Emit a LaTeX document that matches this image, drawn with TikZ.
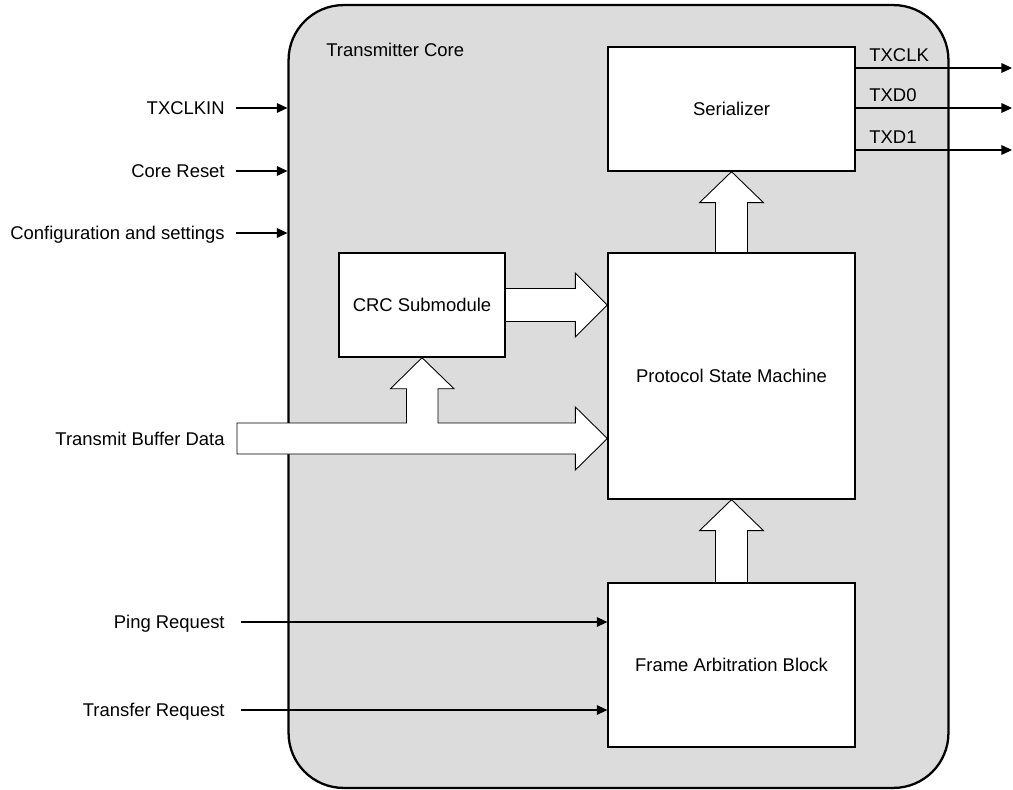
\documentclass[tikz,border=0pt]{standalone}
\usepackage{fontspec}
\setmainfont{Liberation Sans}
\usetikzlibrary{arrows.meta,calc,backgrounds}
\definecolor{coregray}{RGB}{220,220,220}

\begin{document}
\begin{tikzpicture}[x=0.02cm,y=-0.02cm,font=\fontsize{10.5}{12}\selectfont,
 blk/.style={draw,fill=white,line width=0.8pt,inner sep=0pt,minimum width=4.94cm},
 sig/.style={-{Triangle[length=6pt,width=5.5pt]},line width=0.6pt},
 fat/.style={draw,fill=white,line width=0.5pt,line join=miter},
 lbl/.style={inner sep=0pt,text height=7.5pt,text depth=0pt}]

\useasboundingbox (0,0) rectangle (1013,790);

\node[blk,minimum height=2.48cm] (ser) at (731.5,109) {Serializer};
\node[blk,minimum height=4.92cm] (psm) at (731.5,376) {Protocol State Machine};
\node[blk,minimum height=3.28cm] (fab) at (731.5,665) {Frame Arbitration Block};
\node[blk,minimum width=3.32cm,minimum height=2.08cm] (crc) at (422,305) {CRC Submodule};

\begin{scope}[on background layer]
\node[draw,fill=coregray,line width=1.3pt,rounded corners=1.1cm,inner sep=0pt,
 minimum width=13.2cm,minimum height=15.66cm] (core) at (618.5,396.5) {};

\foreach \a/\b in {psm/ser, fab/psm}{
\draw[fat] ($(\a.north)+(-16,0)$) -- ($(\b.south)+(-16,31)$) -- ++(-16,0) -- (\b.south)
 -- ++(32,31) -- ++(-16,0) -- ($(\a.north)+(16,0)$);
}

\draw[fat] ($(crc.east)+(0,-16.5)$) -- ($(crc.east -| psm.west)+(-32,-16.5)$) -- ++(0,-15.5)
 -- (crc.east -| psm.west) -- ++(-32,32) -- ++(0,-15.5) -- ($(crc.east)+(0,16.5)$);

\coordinate (tin) at (237,438.5);
\draw[fat] ($(tin)+(0,-15.5)$) -| ($(crc.south)+(-15.5,31)$) -- ++(-16,0) -- (crc.south)
 -- ++(32,31) -- ++(-16,0) |- ($(tin -| psm.west)+(-32,-15.5)$) -- ++(0,-16)
 -- (tin -| psm.west) -- ++(-32,31.5) -- ++(0,-16) -- ($(tin)+(0,15.5)$) -- cycle;
\end{scope}

\node[lbl,anchor=west] (title) at (326,50) {Transmitter Core};
\node[lbl,anchor=east] (tbd) at (225,438.5) {Transmit Buffer Data};

\foreach \y/\t/\n in {108/TXCLKIN/a, 171/Core Reset/b, 233/Configuration and settings/c}{
\node[lbl,anchor=east] (in_\n) at (225,\y) {\t};
\draw[sig] ($(in_\n.east)+(11,0)$) -- (in_\n.east -| core.west);
}

\foreach \y/\t/\n in {622/Ping Request/a, 710/Transfer Request/b}{
\node[lbl,anchor=east] (req_\n) at (225,\y) {\t};
\draw[sig] ($(req_\n.east)+(16,0)$) -- (req_\n.east -| fab.west);
}

\foreach \y/\t/\n in {68/TXCLK/a, 108/TXD0/b, 150/TXD1/c}{
\coordinate (out_\n) at (1012,\y);
\draw[sig] (ser.east |- out_\n) -- (out_\n);
\node[lbl,anchor=west] (lbl_\n) at (869,\y-13) {\t};
}

\end{tikzpicture}
\end{document}
